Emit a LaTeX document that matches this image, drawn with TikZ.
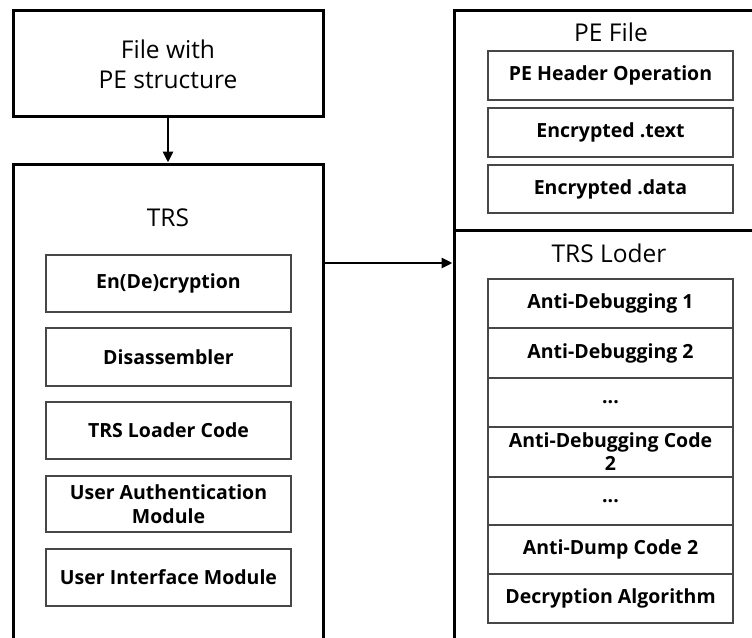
\documentclass[tikz,border=0pt]{standalone}
\usepackage{fontspec}
\setmainfont{Open Sans}
\usetikzlibrary{arrows.meta}
\newcommand{\lblfont}{\fontsize{24.5}{30}\selectfont}
\newcommand{\boxfont}{\fontsize{19.5}{24}\selectfont\bfseries}
\tikzset{
  outerbox/.style={draw, line width=3pt, inner sep=0pt},
  innerbox/.style={draw=black!72, line width=1.2pt, inner sep=0pt, align=center, font=\boxfont, minimum width=245pt},
  lbl/.style={inner sep=0pt, font=\lblfont, align=center},
  arr/.style={line width=2.8pt, -{Triangle[length=11pt,width=10pt]}}
}
\begin{document}
\begin{tikzpicture}[x=1pt,y=-1pt]
\path[use as bounding box, clip] (0,0) rectangle (752,637);
% top-left box
\node[outerbox, minimum width=310pt, minimum height=106pt] (file) at (168,63) {};
\node[lbl, anchor=base] (fileA) at (168,58) {File with};
\node[lbl, anchor=base] (fileB) at (168,88) {PE structure};
% TRS container
\node[outerbox, minimum width=310pt, minimum height=516pt] (trs) at (168,422) {};
\node[lbl, anchor=base] (trslbl) at (168,226) {TRS};
\node[innerbox, minimum height=57pt] (enc) at (168.5,283.5) {En(De)cryption};
\node[innerbox, minimum height=58pt] (dis) at (168.5,357) {Disassembler};
\node[innerbox, minimum height=57pt] (ldr) at (168.5,430.5) {TRS Loader Code};
\node[innerbox, minimum height=56pt] (auth) at (168.5,504) {User Authentication\\Module};
\node[innerbox, minimum height=57pt] (ui) at (168.5,577.5) {User Interface Module};
% right containers
\node[outerbox, minimum width=326pt, minimum height=220pt] (pe) at (617,120) {};
\node[lbl, anchor=base] (pelbl) at (611,41) {PE File};
\node[innerbox, minimum height=49pt] (peh) at (610.5,75.5) {PE Header Operation};
\node[innerbox, minimum height=49pt] (etext) at (610.5,132.5) {Encrypted .text};
\node[innerbox, minimum height=48pt] (edata) at (610.5,189) {Encrypted .data};
\node[outerbox, minimum width=326pt, minimum height=450pt] (loader) at (617,455) {};
\node[lbl, anchor=base] (ldlbl) at (609,262) {TRS Loder};
\node[innerbox, minimum height=49pt] (ad1) at (610.5,303.5) {Anti-Debugging 1};
\node[innerbox, minimum height=50pt] (ad2) at (610.5,353) {Anti-Debugging 2};
\node[innerbox, minimum height=49pt] (dots1) at (610.5,402.5) {...};
\node[innerbox, minimum height=50pt, font=\fontsize{19.5}{23}\selectfont\bfseries] (adc) at (610.5,452) {Anti-Debugging Code\\2};
\node[innerbox, minimum height=48pt] (dots2) at (610.5,501) {...};
\node[innerbox, minimum height=49pt] (adump) at (610.5,549.5) {Anti-Dump Code 2};
\node[innerbox, minimum height=49pt] (dec) at (610.5,598.5) {Decryption Algorithm};
% connectors
\draw[arr] (file.south) -- (trs.north);
\coordinate (ay) at (0,263);
\draw[arr] (trs.east |- ay) -- (loader.west |- ay);
\end{tikzpicture}
\end{document}
